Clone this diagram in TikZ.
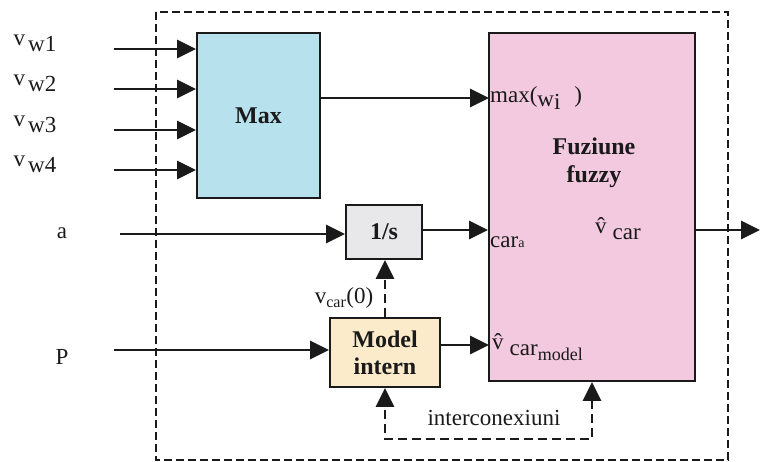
\documentclass[tikz,border=0pt]{standalone}
\usepackage{fontspec}
\setmainfont{Liberation Serif}
\usepackage{tikz}
\usetikzlibrary{arrows.meta,positioning,calc}
\definecolor{SkyFill}{HTML}{B8E1EE}
\definecolor{PinkFill}{HTML}{F2C9DE}
\definecolor{GreyFill}{HTML}{E8E8EB}
\definecolor{CreamFill}{HTML}{FCEBCB}
\definecolor{Ink}{HTML}{1A1A1A}

\begin{document}
\begin{tikzpicture}[
  x=1pt,y=-1pt,
  every node/.style={font=\fontsize{23}{25}\selectfont,text=Ink},
  block/.style={draw=Ink,line width=1.8pt,inner sep=0pt,align=center,font=\fontsize{24}{27}\selectfont\bfseries},
  sig/.style={font=\fontsize{23}{25}\selectfont,inner sep=1pt},
  arr/.style={-{Triangle[length=19pt,width=18pt]},line width=2.7pt,Ink},
  darr/.style={arr,dash pattern=on 9pt off 5pt},
  frame/.style={draw=Ink,line width=1.4pt,dash pattern=on 8pt off 4pt}
]
\useasboundingbox (0,0) rectangle (760,462);
\draw[frame] (156,12) rectangle (728,460);

% blocks
\node[block,fill=SkyFill,minimum width=123pt,minimum height=165pt] (max) at (258.5,115.5) {Max};
\node[block,fill=PinkFill,minimum width=206pt,minimum height=348pt] (fuzzy) at (592,207) {};
\node[font=\fontsize{24}{28}\selectfont\bfseries,align=center] (fuzlbl) at (594,163) {Fuziune\\fuzzy};
\node[block,fill=GreyFill,minimum width=76pt,minimum height=54pt] (integ) at (384,232) {1/s};
\node[block,fill=CreamFill,minimum width=110pt,minimum height=69pt] (model) at (385,352.5) {Model\\intern};

% inputs
\foreach \k/\y in {1/49,2/89,3/130,4/170}{
  \coordinate (in\k) at (114,\y);
  \node[sig] (lw\k) at (35,\y-6) {\raisebox{6pt}{v}\hspace{3pt}w\k};
  \draw[arr] (in\k) -- (in\k -| max.west);
}
\coordinate (ina) at (120,234);
\node[sig] (la) at (62,233) {a};
\draw[arr] (ina) -- (ina -| integ.west);
\coordinate (inp) at (114,350);
\node[sig] (lp) at (62,357) {P};
\draw[arr] (inp) -- (inp -| model.west);

% into the fuzzy block
\coordinate (fmax) at (489,98);
\draw[arr] (max.east |- fmax) -- (fmax);
\node[sig,anchor=west] (lmax) at (fmax) {max(\raisebox{-4pt}{w\raisebox{-3pt}{i}}\hspace{14pt})};
\draw[arr] (integ.east |- 0,230) -- (fuzzy.west |- 0,230);
\node[sig,anchor=west] (lcar) at (489,242) {car{\fontsize{14}{14}\selectfont a}};
\coordinate (fmod) at (489,345);
\draw[arr] (model.east |- fmod) -- (fmod);
\node[sig,anchor=west] (lmod) at (491,347) {\raisebox{6pt}{\^{v}}\hspace{6pt}car\raisebox{-5pt}{\fontsize{18}{18}\selectfont model}};
\node[sig] (lhat) at (618,229) {\raisebox{6pt}{\^{v}}\hspace{6pt}car};

% output
\coordinate (out) at (760,230);
\draw[arr] (fuzzy.east |- out) -- (out);

% internal feedback
\draw[darr] (model.north) -- (model.north |- integ.south);
\node[sig] (lv0) at (344,298) {v\textsubscript{car}(0)};
\draw[darr,{Triangle[length=19pt,width=18pt]}-{Triangle[length=19pt,width=18pt]}] (fuzzy.south) -- ++(0,57) -| (model.south);
\node[sig] (lint) at (494,418) {interconexiuni};
\end{tikzpicture}
\end{document}
